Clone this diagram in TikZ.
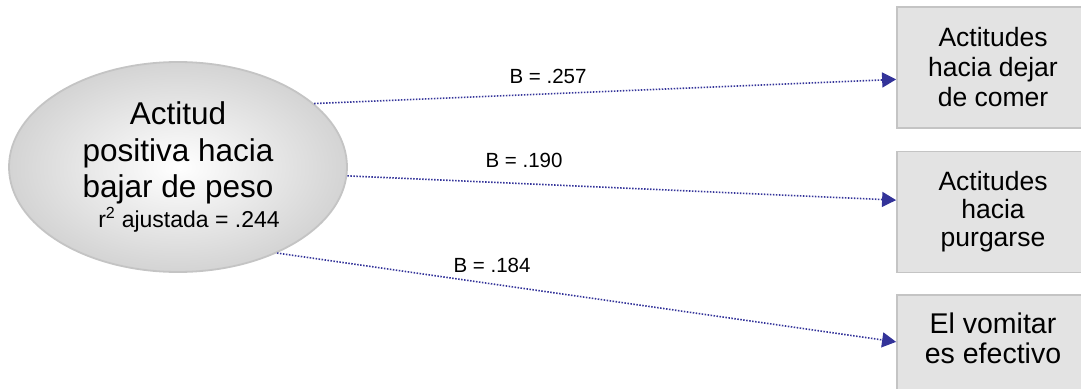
\documentclass[tikz,border=0pt]{standalone}
\usepackage{fontspec}
\setmainfont{Liberation Sans}
\usetikzlibrary{arrows.meta, shapes.geometric}
\definecolor{flecha}{HTML}{333399}
\definecolor{borde}{HTML}{C4C4C4}

\begin{document}
\begin{tikzpicture}[x=1pt, y=-1pt, >={Triangle[length=14pt, width=15pt]}]
  \useasboundingbox (0,0) rectangle (1081,388);
  \clip (0,0) rectangle (1081,388);
  \tikzset{
    marmol/.style={draw=borde, line width=1.8pt, inner color=white, outer color=black!17},
    caja/.style={draw=borde, line width=1.8pt, fill=black!11, minimum width=192pt,
      minimum height=121pt, align=center, font=\fontsize{26.5}{30}\selectfont},
    ruta/.style={->, flecha, line width=1.6pt, dash pattern=on 1.5pt off 1.5pt},
    coef/.style={font=\fontsize{20.5}{24}\selectfont}
  }

  % predictor
  \node[ellipse, marmol, minimum width=338pt, minimum height=210pt, inner sep=0pt,
    align=center, font=\fontsize{31.5}{36.5}\selectfont] (actitud) at (178,167)
    {Actitud\\positiva hacia\\bajar de peso\\[-6.5pt]%
     \hspace*{22pt}{\fontsize{23}{26}\selectfont r\textsuperscript{2} ajustada = .244}};

  % criterios
  \node[caja] (dejar) at (993,67.5) {Actitudes\\hacia dejar\\de comer};
  \node[caja, font=\fontsize{26.5}{28}\selectfont] (purgar) at (993,212) {Actitudes\\hacia\\purgarse};
  \node[caja] (vomitar) at (993,355.5) {};
  \node[align=center, font=\fontsize{28.5}{30}\selectfont] (vomitar-txt) at (993,338) {El vomitar\\es efectivo};

  % rutas
  \draw[ruta] (actitud.25) -- (dejar.187);
  \draw[ruta] (actitud.-3) -- (purgar.173);
  \draw[ruta] (actitud.-41) -- (vomitar.172);

  \node[coef] (b1) at (548,76) {B = .257};
  \node[coef] (b2) at (524,160) {B = .190};
  \node[coef] (b3) at (492,265) {B = .184};
\end{tikzpicture}
\end{document}
